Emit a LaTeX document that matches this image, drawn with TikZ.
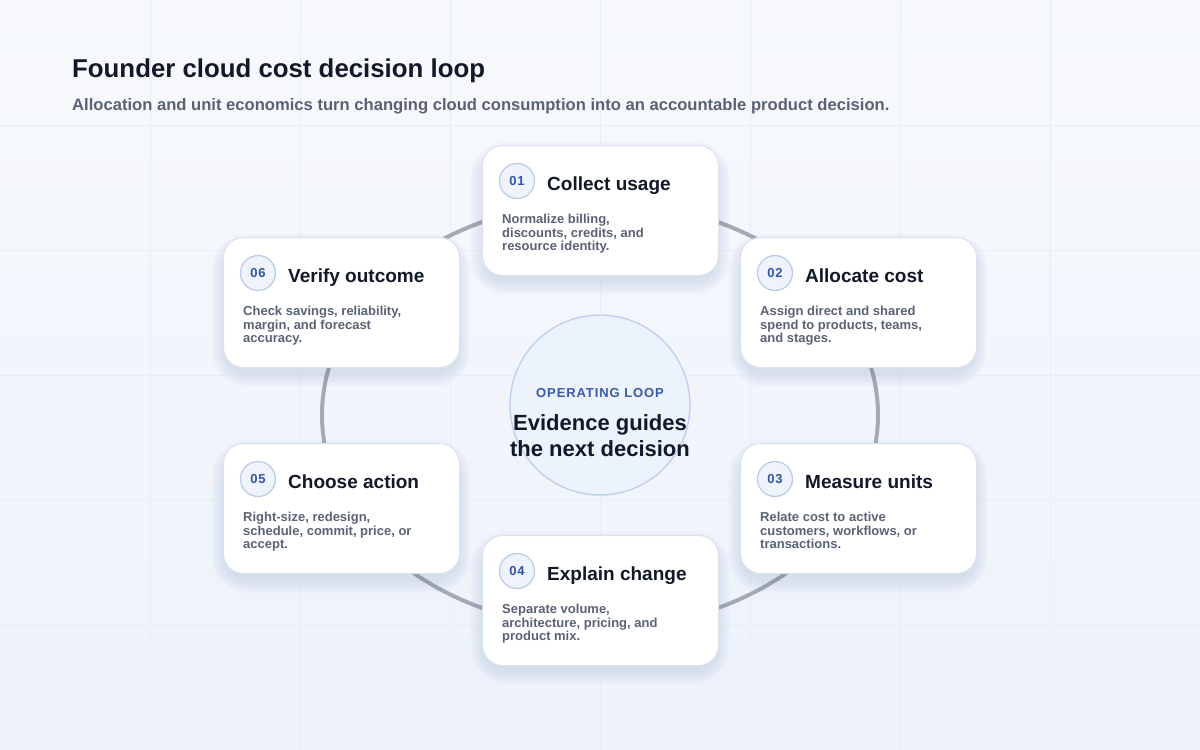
\documentclass[tikz,border=0pt]{standalone}
\usepackage{fontspec}
\setmainfont{Liberation Sans}
\newfontfamily\spacedfont[LetterSpace=7]{Liberation Sans}
\definecolor{bgTop}{HTML}{F7F9FC}
\definecolor{bgBot}{HTML}{EDF2FB}
\definecolor{gridc}{HTML}{E9EDF4}
\definecolor{titlec}{HTML}{111827}
\definecolor{subc}{HTML}{586274}
\definecolor{descc}{HTML}{596375}
\definecolor{ringc}{HTML}{A3A9B5}
\definecolor{cardborder}{HTML}{DCE2EB}
\definecolor{shadowc}{HTML}{5A6A90}
\definecolor{numfill}{HTML}{EEF3FC}
\definecolor{numborder}{HTML}{BACBE8}
\definecolor{numtext}{HTML}{2F55A4}
\definecolor{hubfill}{HTML}{EDF3FD}
\definecolor{hubborder}{HTML}{BDCEEC}
\definecolor{hubtag}{HTML}{3A5BAA}
\tikzset{
  cardbox/.style={rectangle, rounded corners=20pt, minimum width=236pt, minimum height=130pt,
    fill=white, draw=cardborder, line width=1pt, inner sep=0pt},
  numcirc/.style={circle, minimum size=35pt, inner sep=0pt, fill=numfill, draw=numborder, line width=1.2pt,
    text=numtext, font=\spacedfont\bfseries\fontsize{13}{14}\selectfont},
  cardtitle/.style={anchor=base west, inner sep=0pt, text=titlec, font=\bfseries\fontsize{19}{22}\selectfont},
  carddesc/.style={anchor=base west, inner sep=0pt, align=left, text=descc,
    font=\bfseries\fontsize{13}{13.5}\selectfont},
  ringline/.style={draw=ringc, line width=4pt},
  gridline/.style={draw=gridc, line width=1pt},
  shadowlayer/.style={fill=shadowc, opacity=0.009},
}
\newcommand\stepcard[6]{%
  \foreach \k in {1,...,16}{
    \pgfmathsetmacro\rr{20+\k}
    \fill[shadowlayer, rounded corners=\rr pt] (#2-\k+4,#3-\k+12) rectangle (#2+236+\k-4,#3+130+\k+4);
  }
  \node[cardbox, anchor=north west] (#1) at (#2,#3) {};
  \node[numcirc] (#1num) at (#2+35,#3+36) {#4};
  \node[cardtitle] (#1title) at (#2+65,#3+45.5) {#5};
  \node[carddesc] (#1desc) at (#2+20,#3+78.5+27) {#6};
}
\begin{document}
\begin{tikzpicture}[x=1pt,y=-1pt]
\shade[top color=bgTop, bottom color=bgBot] (0,0) rectangle (1200,750);
\useasboundingbox (0,0) rectangle (1200,750);
\foreach \gx in {150,300,...,1050} \draw[gridline] (\gx,0) -- (\gx,750);
\foreach \gy in {125,250,...,625} \draw[gridline] (0,\gy) -- (1200,\gy);

\node[anchor=base west, inner sep=0pt, text=titlec, font=\bfseries\fontsize{25.8}{30}\selectfont] (title) at (72,77) {Founder cloud cost decision loop};
\node[anchor=base west, inner sep=0pt, text=subc, font=\bfseries\fontsize{16.6}{19}\selectfont] (subtitle) at (72,110) {Allocation and unit economics turn changing cloud consumption into an accountable product decision.};

\draw[ringline] (600,415) ellipse [x radius=278, y radius=213];

\node[circle, minimum size=180pt, inner sep=0pt, fill=hubfill, draw=hubborder, line width=1.3pt] (hub) at (600,405) {};
\node[anchor=base, inner sep=0pt, text=hubtag, font=\spacedfont\bfseries\fontsize{13}{14}\selectfont] (hubtag) at (600,397) {OPERATING LOOP};
\node[anchor=base, inner sep=0pt, text=titlec, align=center, font=\bfseries\fontsize{22}{26}\selectfont] (hubtext) at (600,456) {Evidence guides\\the next decision};

\stepcard{c1}{482}{145}{01}{Collect usage}{Normalize billing,\\discounts, credits, and\\resource identity.}
\stepcard{c2}{740}{237}{02}{Allocate cost}{Assign direct and shared\\spend to products, teams,\\and stages.}
\stepcard{c3}{740}{443}{03}{Measure units}{Relate cost to active\\customers, workflows, or\\transactions.}
\stepcard{c4}{482}{535}{04}{Explain change}{Separate volume,\\architecture, pricing, and\\product mix.}
\stepcard{c5}{223}{443}{05}{Choose action}{Right-size, redesign,\\schedule, commit, price, or\\accept.}
\stepcard{c6}{223}{237}{06}{Verify outcome}{Check savings, reliability,\\margin, and forecast\\accuracy.}
\end{tikzpicture}
\end{document}
